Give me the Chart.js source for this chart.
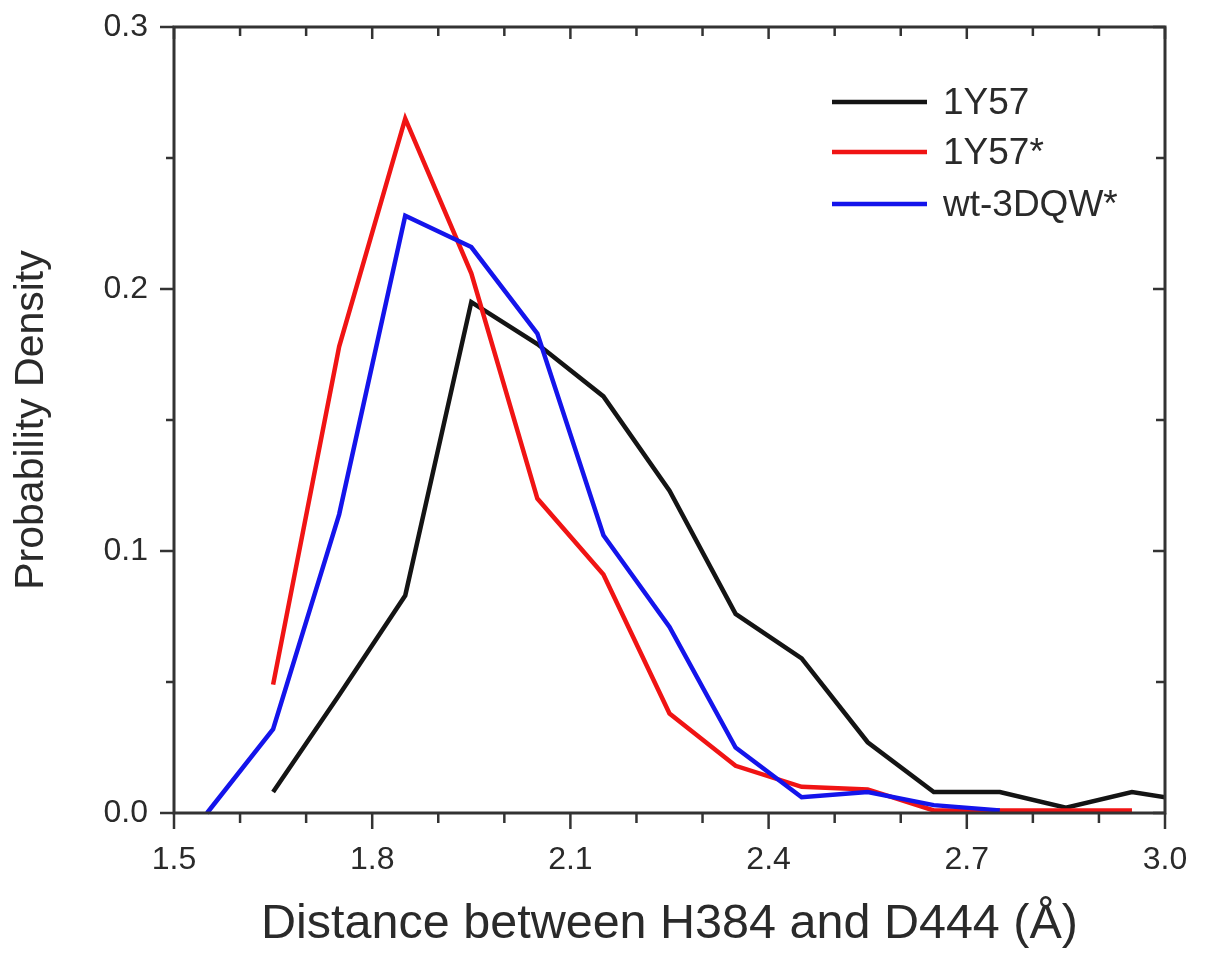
<!DOCTYPE html>
<html><head><meta charset="utf-8">
<script src="https://cdn.jsdelivr.net/npm/chart.js@4.4.1/dist/chart.umd.min.js"></script>
<style>html,body{margin:0;padding:0;background:#fff;}#wrap{width:1212px;height:954px;}</style>
</head><body><div id="wrap"><canvas id="c" width="1212" height="954"></canvas></div>
<script>
const binCenters = [1.55,1.65,1.75,1.85,1.95,2.05,2.15,2.25,2.35,2.45,2.55,2.65,2.75,2.85,2.95,3.05];
const series1Y57     = [null,0.008,0.045,0.083,0.195,0.179,0.159,0.123,0.076,0.059,0.027,0.008,0.008,0.002,0.008,0.004];
const series1Y57star = [null,0.049,0.178,0.265,0.206,0.120,0.091,0.038,0.018,0.010,0.009,0.001,0.001,0.001,0.001,null];
const seriesWt3DQW   = [0.000,0.032,0.114,0.228,0.216,0.183,0.106,0.071,0.025,0.006,0.008,0.003,0.001,null,null,null];
const seriesNames = ['1Y57','1Y57*','wt-3DQW*'];
const seriesColors = ['rgb(20,20,20)','rgb(240,20,20)','rgb(20,20,235)'];
const xTickLabels = ['1.5','1.8','2.1','2.4','2.7','3.0'];
const yTickLabels = ['0.0','0.1','0.2','0.3'];
const xTitle = 'Distance between H384 and D444 (Å)';
const yTitle = 'Probability Density';

const FONT = "'Liberation Sans', Arial, sans-serif";
const AXIS_COLOR = '#333';
const TEXT_COLOR = '#2a2a2a';

function pts(arr){ return binCenters.map((x,i)=>({x:x,y:arr[i]})); }

const framePlugin = {
  id:'frame',
  afterDatasetsDraw(chart){
    const {ctx, chartArea:{left,right,top,bottom}, scales:{x,y}} = chart;
    ctx.save();
    ctx.strokeStyle = AXIS_COLOR;
    ctx.lineCap = 'butt';
    const line=(a,b,c,d)=>{ctx.beginPath();ctx.moveTo(a,b);ctx.lineTo(c,d);ctx.stroke();};
    ctx.lineWidth = 2.5;
    x.ticks.forEach(t=>{
      const px = x.getPixelForValue(t.value);
      const major = xTickLabels.includes(t.value.toFixed(1));
      const L = major?16:10;
      line(px,bottom,px,bottom+L);
      line(px,top,px,top+(major?12:9));
    });
    y.ticks.forEach(t=>{
      const py = y.getPixelForValue(t.value);
      const major = yTickLabels.includes(t.value.toFixed(1)) && Math.abs(t.value*10-Math.round(t.value*10))<1e-6;
      const L = major?14:8;
      line(left-L,py,left,py);
      line(right-(major?12:9),py,right,py);
    });
    ctx.lineWidth = 3;
    ctx.strokeRect(left,top,right-left,bottom-top);
    ctx.restore();
  }
};

const legendPlugin = {
  id:'customLegend',
  afterDraw(chart){
    const {ctx} = chart;
    ctx.save();
    const x0 = 832, x1 = 927, tx = 943;
    const rows = [102,152,204];
    chart.data.datasets.forEach((ds,i)=>{
      ctx.strokeStyle = ds.borderColor; ctx.lineWidth = 4.5;
      ctx.beginPath(); ctx.moveTo(x0,rows[i]); ctx.lineTo(x1,rows[i]); ctx.stroke();
      ctx.fillStyle = TEXT_COLOR; ctx.font = "37px " + FONT;
      ctx.textBaseline = 'middle'; ctx.textAlign = 'left';
      ctx.fillText(ds.label, tx, rows[i]+2);
    });
    ctx.restore();
  }
};

new Chart(document.getElementById('c'), {
  type:'line',
  data:{
    datasets:[
      {label:seriesNames[0], data:pts(series1Y57), borderColor:seriesColors[0], order:3},
      {label:seriesNames[1], data:pts(series1Y57star), borderColor:seriesColors[1], order:2},
      {label:seriesNames[2], data:pts(seriesWt3DQW), borderColor:seriesColors[2], order:1}
    ].map(d=>Object.assign(d,{borderWidth:4.5,pointRadius:0,tension:0,fill:false,spanGaps:false,clip:{left:0,right:0,top:6,bottom:6}}))
  },
  options:{
    responsive:false, devicePixelRatio:1, animation:false,
    layout:{padding:{left:0,top:27,right:47,bottom:0}},
    plugins:{legend:{display:false}, tooltip:{enabled:false}},
    scales:{
      x:{type:'linear', min:1.5, max:3.0,
        grid:{display:false, drawTicks:false}, border:{display:false},
        ticks:{stepSize:0.1, autoSkip:false, maxRotation:0, padding:28, color:TEXT_COLOR,
          font:{family:FONT,size:32},
          callback:(v)=>{const s=Number(v).toFixed(1); return xTickLabels.includes(s)?s:'';}},
        title:{display:true, text:xTitle, color:TEXT_COLOR, font:{family:FONT,size:48.5}, padding:{top:0,bottom:0}},
        afterFit:(s)=>{s.height = 954-813; s.paddingLeft = 0; s.paddingRight = 0;}
      },
      y:{type:'linear', min:0, max:0.3,
        grid:{display:false, drawTicks:false}, border:{display:false},
        ticks:{stepSize:0.05, autoSkip:false, padding:26, color:TEXT_COLOR,
          font:{family:FONT,size:32},
          callback:(v)=>{const r=Math.round(Number(v)*100); if(r%10!==0) return ''; const s=(r/100).toFixed(1); return yTickLabels.includes(s)?s:'';}},
        title:{display:true, text:yTitle, color:TEXT_COLOR, font:{family:FONT,size:41}, padding:{top:7,bottom:0}},
        afterFit:(s)=>{s.width = 174; s.paddingTop = 0; s.paddingBottom = 0;}
      }
    }
  },
  plugins:[framePlugin, legendPlugin]
});
</script></body></html>
